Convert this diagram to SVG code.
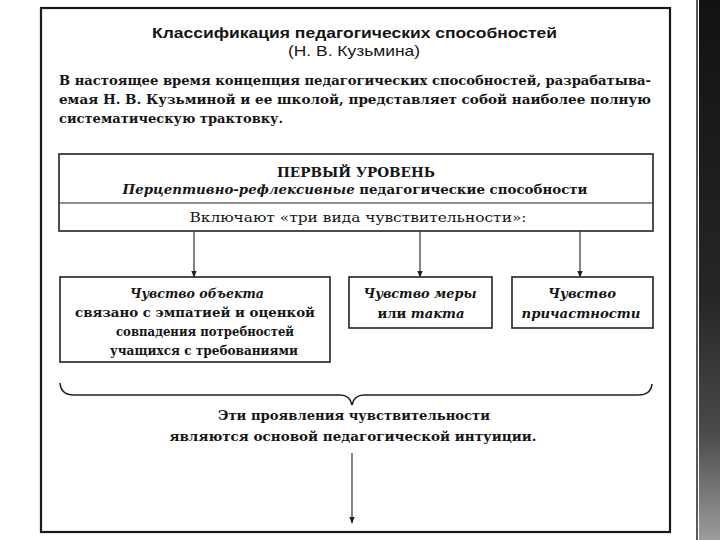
<svg xmlns="http://www.w3.org/2000/svg" width="720" height="540" viewBox="0 0 720 540">
<defs>
<style>
.sans{font-family:"Liberation Sans","Arial",sans-serif;fill:#151515}
.serif{font-family:"DejaVu Serif","Liberation Serif",serif;fill:#151515}
.b{font-weight:bold}
.i{font-style:italic}
.box{fill:#fff;stroke:#222;stroke-width:1.6}
.conn{fill:none;stroke:#333;stroke-width:1.2}
</style>
<marker id="ah" viewBox="0 0 10 10" refX="9" refY="5" markerWidth="7" markerHeight="7" orient="auto" markerUnits="userSpaceOnUse">
<path d="M0,1 L10,5 L0,9 Z" fill="#222"/>
</marker>
<linearGradient id="stripG" gradientUnits="userSpaceOnUse" x1="0" y1="0" x2="0" y2="540">
<stop offset="0" stop-color="#121212"/>
<stop offset="0.55" stop-color="#262626"/>
<stop offset="0.8" stop-color="#4a4a4a"/>
<stop offset="1" stop-color="#9c9c9c"/>
</linearGradient>
</defs>
<rect width="720" height="540" fill="#fff"/>
<g id="strip">
<rect x="699" y="0" width="21" height="540" fill="url(#stripG)"/>
<line x1="697" y1="0" x2="697" y2="540" stroke="#222" stroke-width="1.5"/>
</g>
<g id="frame">
<rect x="41" y="8" width="629" height="524" fill="none" stroke="#1a1a1a" stroke-width="2.2"/>
</g>
<g id="header">
<text class="sans b" x="354.5" y="38" font-size="14" text-anchor="middle" textLength="405" lengthAdjust="spacingAndGlyphs">Классификация педагогических способностей</text>
<text class="sans" x="354" y="56" font-size="15" text-anchor="middle" textLength="132" lengthAdjust="spacingAndGlyphs">(Н. В. Кузьмина)</text>
<text class="serif b" x="59" y="85" font-size="13" textLength="592" lengthAdjust="spacingAndGlyphs">В настоящее время концепция педагогических способностей, разрабатыва-</text>
<text class="serif b" x="59" y="104" font-size="13" textLength="592" lengthAdjust="spacingAndGlyphs">емая Н. В. Кузьминой и ее школой, представляет собой наиболее полную</text>
<text class="serif b" x="59" y="123" font-size="13" textLength="224" lengthAdjust="spacingAndGlyphs">систематическую трактовку.</text>
</g>
<g id="level1">
<rect class="box" x="59" y="154" width="594" height="77"/>
<line x1="59" y1="203" x2="653" y2="203" stroke="#222" stroke-width="1.2"/>
<text class="serif b" x="356" y="177" font-size="13.5" text-anchor="middle" textLength="158" lengthAdjust="spacingAndGlyphs">ПЕРВЫЙ УРОВЕНЬ</text>
<text class="serif b" x="355" y="194" font-size="13" text-anchor="middle" textLength="465" lengthAdjust="spacingAndGlyphs"><tspan class="i">Перцептивно-рефлексивные</tspan> педагогические способности</text>
<text class="serif" x="358" y="222" font-size="13.5" text-anchor="middle" textLength="337" lengthAdjust="spacingAndGlyphs">Включают «три вида чувствительности»:</text>
</g>
<g id="connectors">
<line class="conn" x1="194" y1="231" x2="194" y2="277" marker-end="url(#ah)"/>
<line class="conn" x1="420" y1="231" x2="420" y2="277" marker-end="url(#ah)"/>
<line class="conn" x1="580" y1="231" x2="580" y2="277" marker-end="url(#ah)"/>
<path d="M60,383 Q61,395 74,395 L340,395 Q350,395 352,405 Q354,395 364,395 L638,395 Q651,395 652,384" fill="none" stroke="#222" stroke-width="1.6"/>
<line class="conn" x1="352" y1="453" x2="352" y2="523" marker-end="url(#ah)"/>
</g>
<g id="sense-object">
<rect class="box" x="60" y="277" width="270" height="85"/>
<text class="serif b i" x="197" y="298" font-size="13.5" text-anchor="middle" textLength="134" lengthAdjust="spacingAndGlyphs">Чувство объекта</text>
<text class="serif b" x="195" y="317" font-size="13" text-anchor="middle" textLength="240" lengthAdjust="spacingAndGlyphs">связано с эмпатией и оценкой</text>
<text class="serif b" x="205" y="336" font-size="13" text-anchor="middle" textLength="178" lengthAdjust="spacingAndGlyphs">совпадения потребностей</text>
<text class="serif b" x="204" y="355" font-size="13" text-anchor="middle" textLength="188" lengthAdjust="spacingAndGlyphs">учащихся с требованиями</text>
</g>
<g id="sense-measure">
<rect class="box" x="349" y="277" width="143" height="51"/>
<text class="serif b i" x="420" y="298" font-size="13.5" text-anchor="middle" textLength="113" lengthAdjust="spacingAndGlyphs">Чувство меры</text>
<text class="serif b" x="421" y="318" font-size="13.5" text-anchor="middle" textLength="87" lengthAdjust="spacingAndGlyphs">или <tspan class="i">такта</tspan></text>
</g>
<g id="sense-belonging">
<rect class="box" x="512" y="277" width="141" height="51"/>
<text class="serif b i" x="582" y="298" font-size="13.5" text-anchor="middle" textLength="68" lengthAdjust="spacingAndGlyphs">Чувство</text>
<text class="serif b i" x="581" y="318" font-size="13.5" text-anchor="middle" textLength="119" lengthAdjust="spacingAndGlyphs">причастности</text>
</g>
<g id="conclusion">
<text class="serif b" x="354" y="420" font-size="13" text-anchor="middle" textLength="272" lengthAdjust="spacingAndGlyphs">Эти проявления чувствительности</text>
<text class="serif b" x="353" y="441" font-size="13" text-anchor="middle" textLength="367" lengthAdjust="spacingAndGlyphs">являются основой педагогической интуиции.</text>
</g>
</svg>
